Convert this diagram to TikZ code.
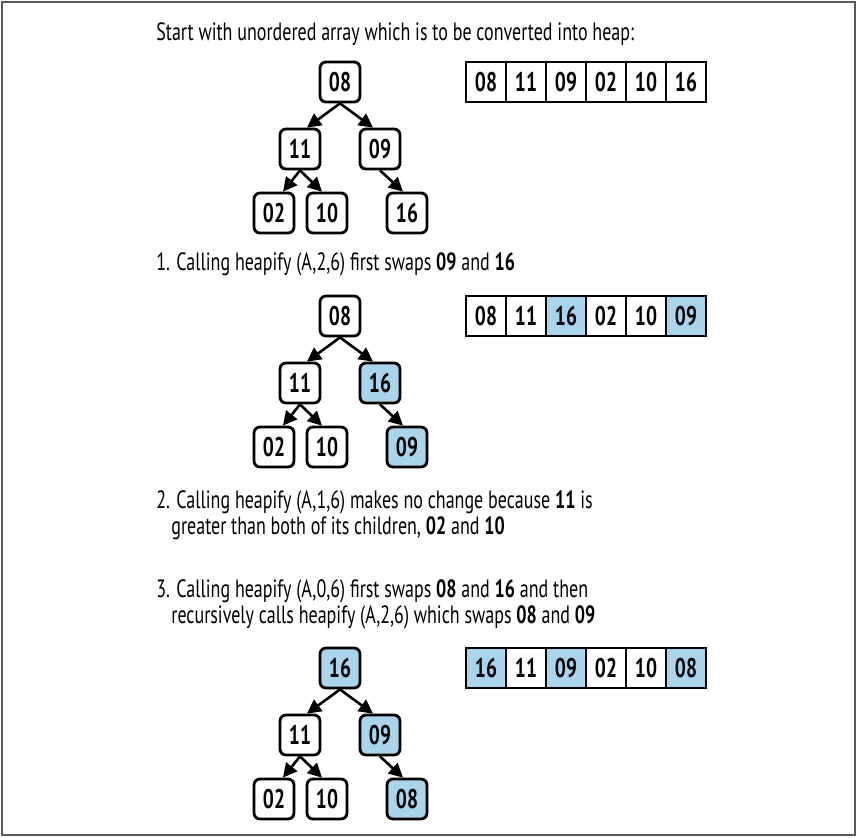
\documentclass[tikz,border=0pt]{standalone}
\usepackage{fontspec}
\setmainfont[FakeStretch=0.72]{PT Sans}
\definecolor{heapblue}{RGB}{170, 212, 235}
\definecolor{framegray}{RGB}{90, 90, 90}
\usetikzlibrary{arrows.meta}

\begin{document}
\begin{tikzpicture}[x=0.5pt, y=-0.5pt, font=\fontsize{12.5}{15}\selectfont,
    box/.style={draw, line width=1.4pt, rounded corners=3pt, minimum size=20pt, inner sep=0pt, font=\fontsize{13.5}{15}\selectfont\bfseries},
    cell/.style={draw, line width=1.3pt, minimum size=20pt, inner sep=0pt, font=\fontsize{13.5}{15}\selectfont\bfseries},
    swapped/.style={fill=heapblue},
    arr/.style={line width=1.3pt, -{Triangle[length=7pt, width=7pt]}},
    txt/.style={anchor=base west, inner sep=0pt}]
  \useasboundingbox (0, 0) rectangle (857, 837);
  \draw[framegray, line width=1pt] (2, 2) rectangle (855, 835);

  % Starting array
  \node[txt] (title) at (156, 40) {Start with unordered array which is to be converted into heap:};
  \node[box] (r1) at (340, 82) {08};
  \node[box] (a1) at (300, 149) {11};
  \node[box] (b1) at (380, 149) {09};
  \node[box] (c1) at (274, 213) {02};
  \node[box] (d1) at (327, 213) {10};
  \node[box] (e1) at (407, 213) {16};
  \draw[arr] (r1.south) -- ([xshift=3.5pt]a1.north);
  \draw[arr] (r1.south) -- ([xshift=-3.5pt]b1.north);
  \draw[arr] (a1.south) -- ([xshift=4.5pt]c1.north);
  \draw[arr] (a1.south) -- ([xshift=-2.5pt]d1.north);
  \draw[arr] (b1.south) -- ([xshift=-2pt]e1.north);
  \node[cell] (v1a) at (486, 82) {08};
  \node[cell] (v1b) at (526, 82) {11};
  \node[cell] (v1c) at (566, 82) {09};
  \node[cell] (v1d) at (606, 82) {02};
  \node[cell] (v1e) at (646, 82) {10};
  \node[cell] (v1f) at (686, 82) {16};

  % Step 1
  \node[txt] (step1) at (156, 270) {1. Calling heapify (A,2,6) first swaps \textbf{09} and \textbf{16}};
  \node[box] (r2) at (340, 316) {08};
  \node[box] (a2) at (300, 383) {11};
  \node[box, swapped] (b2) at (380, 383) {16};
  \node[box] (c2) at (274, 447) {02};
  \node[box] (d2) at (327, 447) {10};
  \node[box, swapped] (e2) at (407, 447) {09};
  \draw[arr] (r2.south) -- ([xshift=3.5pt]a2.north);
  \draw[arr] (r2.south) -- ([xshift=-3.5pt]b2.north);
  \draw[arr] (a2.south) -- ([xshift=4.5pt]c2.north);
  \draw[arr] (a2.south) -- ([xshift=-2.5pt]d2.north);
  \draw[arr] (b2.south) -- ([xshift=-2pt]e2.north);
  \node[cell] (v2a) at (486, 316) {08};
  \node[cell] (v2b) at (526, 316) {11};
  \node[cell, swapped] (v2c) at (566, 316) {16};
  \node[cell] (v2d) at (606, 316) {02};
  \node[cell] (v2e) at (646, 316) {10};
  \node[cell, swapped] (v2f) at (686, 316) {09};

  % Step 2
  \node[txt] (step2a) at (156, 508) {2. Calling heapify (A,1,6) makes no change because \textbf{11} is};
  \node[txt] (step2b) at (171, 534) {greater than both of its children, \textbf{02} and \textbf{10}};

  % Step 3
  \node[txt] (step3a) at (156, 597) {3. Calling heapify (A,0,6) first swaps \textbf{08} and \textbf{16} and then};
  \node[txt] (step3b) at (171, 623) {recursively calls heapify (A,2,6) which swaps \textbf{08} and \textbf{09}};
  \node[box, swapped] (r3) at (340, 668) {16};
  \node[box] (a3) at (300, 735) {11};
  \node[box, swapped] (b3) at (380, 735) {09};
  \node[box] (c3) at (274, 799) {02};
  \node[box] (d3) at (327, 799) {10};
  \node[box, swapped] (e3) at (407, 799) {08};
  \draw[arr] (r3.south) -- ([xshift=3.5pt]a3.north);
  \draw[arr] (r3.south) -- ([xshift=-3.5pt]b3.north);
  \draw[arr] (a3.south) -- ([xshift=4.5pt]c3.north);
  \draw[arr] (a3.south) -- ([xshift=-2.5pt]d3.north);
  \draw[arr] (b3.south) -- ([xshift=-2pt]e3.north);
  \node[cell, swapped] (v3a) at (486, 668) {16};
  \node[cell] (v3b) at (526, 668) {11};
  \node[cell, swapped] (v3c) at (566, 668) {09};
  \node[cell] (v3d) at (606, 668) {02};
  \node[cell] (v3e) at (646, 668) {10};
  \node[cell, swapped] (v3f) at (686, 668) {08};
\end{tikzpicture}
\end{document}
